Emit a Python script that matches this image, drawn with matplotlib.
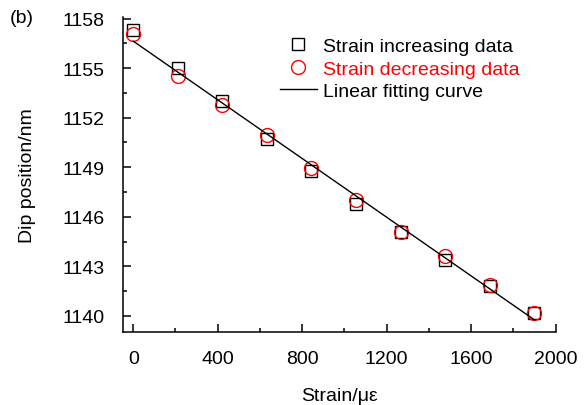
import matplotlib

matplotlib.use("Agg")
matplotlib.rcParams["font.family"] = ["Liberation Sans", "DejaVu Sans"]
import matplotlib.pyplot as plt
import numpy as np

strain = [0, 211, 422, 633, 844, 1055, 1266, 1477, 1688, 1899]
dip_increasing = [1157.3, 1155.0, 1153.0, 1150.7, 1148.76, 1146.8, 1145.1, 1143.4, 1141.8, 1140.2]
dip_decreasing = [1157.06, 1154.5, 1152.74, 1150.96, 1148.94, 1147.0, 1145.1, 1143.6, 1141.84, 1140.2]

x_ticks = [0, 400, 800, 1200, 1600, 2000]
y_ticks = [1140, 1143, 1146, 1149, 1152, 1155, 1158]

# linear fit over both sweeps
all_x = np.array(strain + strain)
all_y = np.array(dip_increasing + dip_decreasing)
k, b = np.polyfit(all_x, all_y, 1)
fit_x = np.array([strain[0], strain[-1]])
fit_y = k * fit_x + b

fs = 14
fig = plt.figure(figsize=(5.86, 4.06), dpi=100)
ax = fig.add_axes([0.2094, 0.179, 0.7386, 0.7767])

ax.plot(strain, dip_increasing, "s", ms=8.6, mfc="none", mec="black", mew=1.0,
        label="Strain increasing data")
ax.plot(strain, dip_decreasing, "o", ms=10, mfc="none", mec="red", mew=1.0,
        label="Strain decreasing data")
ax.plot(fit_x, fit_y, "-", color="black", lw=1.0, label="Linear fitting curve")

ax.set_xlim(-50, 2000)
ax.set_ylim(1139, 1158.1)
ax.set_xticks(x_ticks)
ax.set_yticks(y_ticks)
ax.set_xticks(np.arange(200, 2000, 400), minor=True)
ax.set_yticks(np.arange(1141.5, 1158, 3), minor=True)
ax.tick_params(which="both", direction="in", width=1.1, labelsize=fs)
ax.tick_params(which="major", length=5.5)
ax.tick_params(which="minor", length=3)
ax.tick_params(axis="x", pad=12.5)
ax.tick_params(axis="y", pad=13)

for side in ["top", "right"]:
    ax.spines[side].set_visible(False)
for side in ["left", "bottom"]:
    ax.spines[side].set_linewidth(1.1)

ax.set_xlabel("Strain/\u03bc\u03b5", fontsize=fs, labelpad=14.5)
ax.set_ylabel("Dip position/nm", fontsize=fs, labelpad=19)

ax.legend(loc="upper left", bbox_to_anchor=(0.363, 0.935), frameon=False, fontsize=fs,
          borderpad=0, borderaxespad=0,
          handlelength=1.9, handletextpad=0.3, labelspacing=0.25,
          labelcolor=["black", "red", "black"])

fig.text(0.017, 0.975, "(b)", fontsize=fs, va="top", ha="left")

fig.savefig("out.png", dpi=100)
